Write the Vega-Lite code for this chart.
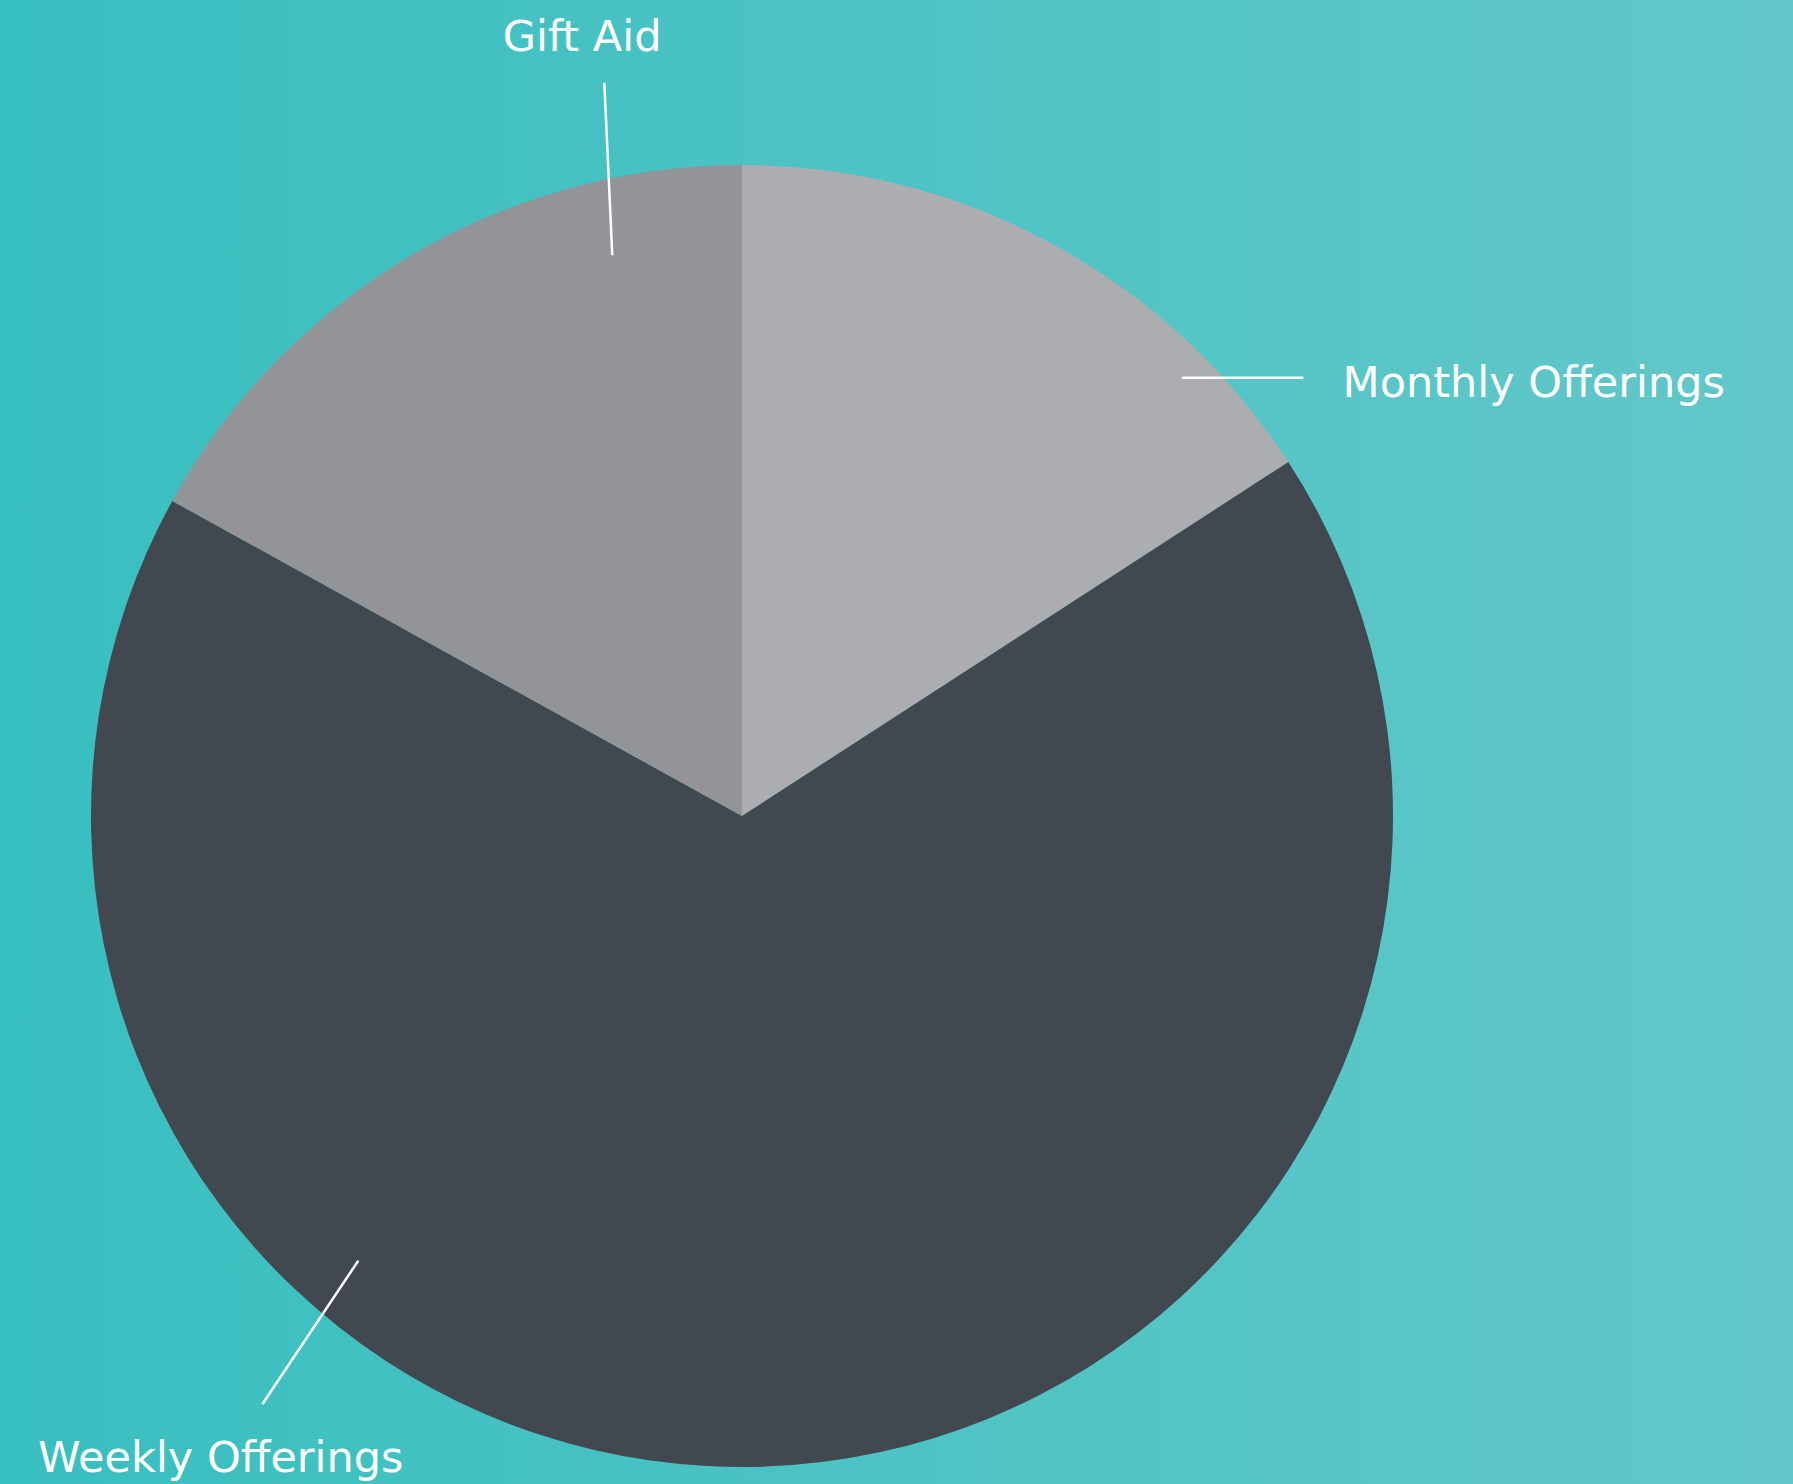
{
  "$schema": "https://vega.github.io/schema/vega-lite/v6.json",
  "width": 1793,
  "height": 1484,
  "autosize": "none",
  "padding": 0,
  "background": "#4ec3c4",
  "config": {"view": {"stroke": null}, "text": {"font": "DejaVu Sans"}},
  "datasets": {
    "giving": [
      {"source": "Monthly Offerings", "share": 15.85, "rank": 1},
      {"source": "Weekly Offerings", "share": 67.19, "rank": 2},
      {"source": "Gift Aid", "share": 16.96, "rank": 3}
    ]
  },
  "data": {"name": "giving"},
  "layer": [
    {
      "data": {"values": [{"panel": "background"}]},
      "mark": {
        "type": "rect",
        "color": {
          "gradient": "linear",
          "x1": 0, "x2": 1, "y1": 0, "y2": 0,
          "stops": [
            {"offset": 0, "color": "#38bfc0"},
            {"offset": 1, "color": "#63c7c9"}
          ]
        }
      },
      "encoding": {}
    },
    {
      "mark": {"type": "arc", "outerRadius": 651, "xOffset": -154.5, "yOffset": 74},
      "encoding": {
        "theta": {"field": "share", "type": "quantitative", "stack": true},
        "order": {"field": "rank", "type": "quantitative"},
        "color": {
          "field": "source",
          "type": "nominal",
          "scale": {
            "domain": ["Monthly Offerings", "Weekly Offerings", "Gift Aid"],
            "range": ["#acadb1", "#41484f", "#939497"]
          },
          "legend": null
        }
      }
    },
    {
      "transform": [{"filter": "datum.source === 'Gift Aid'"}],
      "mark": {"type": "arc", "theta": 6.2369, "theta2": 6.2369, "radius": 172.8, "radius2": 0, "xOffset": -284.2, "yOffset": -486.7, "filled": false, "stroke": "#ffffff", "strokeWidth": 2.5},
      "encoding": {}
    },
    {
      "transform": [{"filter": "datum.source === 'Monthly Offerings'"}],
      "mark": {"type": "arc", "theta": 1.5708, "theta2": 1.5708, "radius": 121.6, "radius2": 0, "xOffset": 285.2, "yOffset": -364.3, "filled": false, "stroke": "#ffffff", "strokeWidth": 2.5},
      "encoding": {}
    },
    {
      "transform": [{"filter": "datum.source === 'Weekly Offerings'"}],
      "mark": {"type": "arc", "theta": 3.7309, "theta2": 3.7309, "radius": 172.7, "radius2": 0, "xOffset": -538.2, "yOffset": 518.7, "filled": false, "stroke": "#ffffff", "strokeWidth": 2.5},
      "encoding": {}
    },
    {
      "transform": [{"filter": "datum.source === 'Gift Aid'"}],
      "mark": {"type": "text", "theta": 6.0771, "radius": 781.6, "xOffset": -154.5, "yOffset": 74, "align": "center", "baseline": "alphabetic", "fontSize": 43, "color": "#ffffff"},
      "encoding": {"text": {"field": "source", "type": "nominal"}}
    },
    {
      "transform": [{"filter": "datum.source === 'Monthly Offerings'"}],
      "mark": {"type": "text", "theta": 1.0837, "radius": 895.9, "xOffset": -154.5, "yOffset": 74, "align": "center", "baseline": "alphabetic", "fontSize": 43, "color": "#ffffff"},
      "encoding": {"text": {"field": "source", "type": "nominal"}}
    },
    {
      "transform": [{"filter": "datum.source === 'Weekly Offerings'"}],
      "mark": {"type": "text", "theta": 3.8128, "radius": 838.1, "xOffset": -154.5, "yOffset": 74, "align": "center", "baseline": "alphabetic", "fontSize": 43, "color": "#ffffff"},
      "encoding": {"text": {"field": "source", "type": "nominal"}}
    }
  ]
}
